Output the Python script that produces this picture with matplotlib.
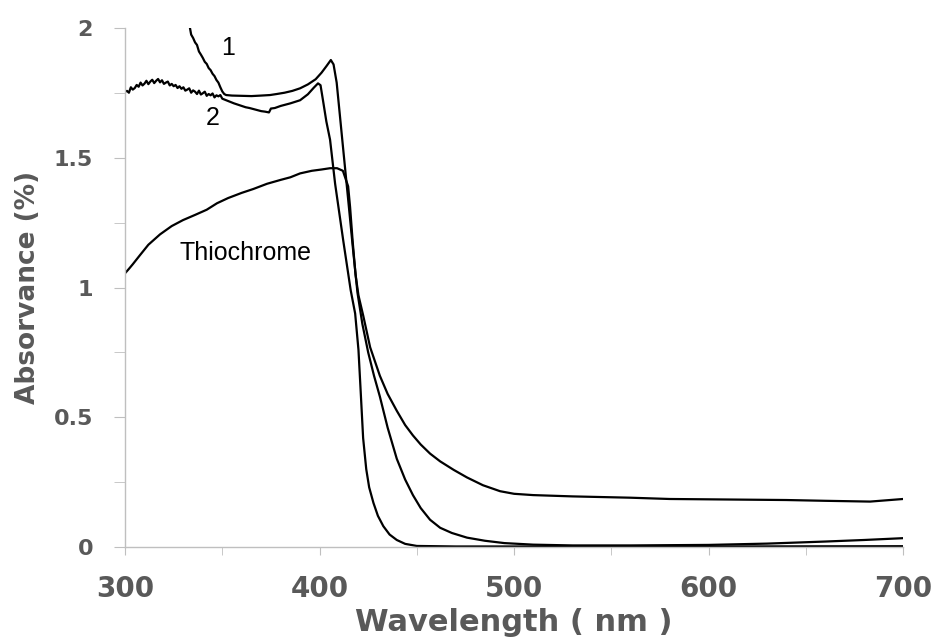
import matplotlib.pyplot as plt
from matplotlib.ticker import MultipleLocator

# curve 1
wl1 = [333.4, 334, 335, 336, 337, 338, 339, 340, 341, 342, 343, 344, 345, 346,
       347, 348, 349, 350, 351, 352, 355, 360, 365, 370, 374.5, 378, 382, 386,
       390, 394, 398, 401, 403.5, 405.8, 407.2, 408.8, 410.5, 412.2, 414.7,
       417.3, 419.5, 422, 425, 428, 431, 435, 439.7, 444, 448, 452, 456.8, 462,
       468, 475.8, 485, 495, 509.8, 530, 560, 600, 630, 660, 680, 700]
abs1 = [2.0, 1.975, 1.962, 1.945, 1.935, 1.91, 1.898, 1.885, 1.87, 1.862, 1.846,
        1.838, 1.824, 1.815, 1.8, 1.79, 1.772, 1.756, 1.746, 1.742, 1.74, 1.739,
        1.738, 1.74, 1.742, 1.746, 1.751, 1.758, 1.768, 1.783, 1.803, 1.828,
        1.853, 1.877, 1.86, 1.79, 1.66, 1.53, 1.34, 1.14, 0.98, 0.86, 0.75,
        0.66, 0.58, 0.46, 0.34, 0.26, 0.2, 0.15, 0.105, 0.074, 0.054, 0.036,
        0.024, 0.015, 0.009, 0.006, 0.006, 0.008, 0.013, 0.021, 0.027, 0.034]

# curve 2
wl2 = [300, 301, 302, 303, 304, 305, 306, 307, 308, 309, 310, 311, 312, 313,
       314, 315, 316, 317, 318, 319, 320, 321, 322, 323, 324, 325, 326, 327,
       328, 329, 330, 331, 332, 333, 334, 335, 336, 337, 338, 339, 340, 341,
       342, 343, 344, 345, 346, 347, 348, 349, 350, 352, 354, 356, 358, 360,
       362, 364, 366, 368, 370, 372, 374, 375, 377, 380, 385, 390, 394, 397,
       399.2, 400.5, 401.8, 403.5, 405.4, 408, 412.2, 416, 418.3, 420, 421,
       422.4, 424, 425.5, 427.7, 430, 432.8, 436, 439.7, 444, 450, 470, 520,
       600, 700]
abs2 = [1.755, 1.758, 1.751, 1.772, 1.763, 1.769, 1.781, 1.774, 1.79, 1.779,
        1.786, 1.797, 1.784, 1.794, 1.801, 1.788, 1.797, 1.804, 1.791, 1.799,
        1.785, 1.79, 1.794, 1.779, 1.785, 1.776, 1.781, 1.769, 1.776, 1.766,
        1.772, 1.759, 1.763, 1.768, 1.751, 1.76, 1.755, 1.746, 1.759, 1.744,
        1.749, 1.755, 1.739, 1.746, 1.741, 1.748, 1.733, 1.741, 1.737, 1.742,
        1.728, 1.722, 1.716, 1.71, 1.705, 1.7, 1.695, 1.692, 1.688, 1.684,
        1.68, 1.678, 1.675, 1.69, 1.692, 1.7, 1.71, 1.722, 1.745, 1.77, 1.787,
        1.78, 1.72, 1.64, 1.57, 1.4, 1.18, 0.99, 0.9, 0.76, 0.62, 0.42, 0.3,
        0.23, 0.17, 0.12, 0.08, 0.048, 0.027, 0.012, 0.004, 0.002, 0.002,
        0.002, 0.003]

# thiochrome
wlT = [300, 302, 304, 307.7, 312, 318, 324, 329.8, 336, 342, 347.3, 353, 360,
       366, 373, 380, 385, 390, 396, 401, 405.4, 409, 412, 414.7, 415.7, 417,
       418.5, 420, 422.5, 426, 431, 435, 439.7, 444, 448, 452, 456.8, 462, 469,
       475.8, 484, 492.8, 500, 509.8, 530, 559.6, 580, 610, 640, 660, 683, 700]
absT = [1.055, 1.072, 1.09, 1.125, 1.165, 1.205, 1.237, 1.26, 1.28, 1.3, 1.325,
        1.345, 1.365, 1.38, 1.4, 1.415, 1.425, 1.44, 1.45, 1.455, 1.46, 1.46,
        1.45, 1.39, 1.31, 1.18, 1.05, 0.97, 0.89, 0.77, 0.66, 0.59, 0.525,
        0.47, 0.43, 0.395, 0.36, 0.33, 0.297, 0.268, 0.238, 0.215, 0.205, 0.2,
        0.195, 0.19, 0.185, 0.183, 0.181, 0.178, 0.175, 0.185]

labels = ["1", "2", "Thiochrome"]
label_pos = [(353, 1.923), (345.2, 1.653), (361.7, 1.133)]

grey = "#595959"
axis_grey = "#bfbfbf"

fig = plt.figure(figsize=(9.33, 6.39), dpi=100)
ax = fig.add_axes([0.134, 0.144, 0.834, 0.812])

for x, y in [(wl1, abs1), (wl2, abs2), (wlT, absT)]:
    ax.plot(x, y, color="black", lw=1.6)

for txt, (x, y) in zip(labels, label_pos):
    ax.text(x, y, txt, fontsize=18, family="Liberation Sans",
            ha="center", va="center", color="black")

ax.set_xlim(300, 700)
ax.set_ylim(0, 2)
ax.xaxis.set_major_locator(MultipleLocator(100))
ax.xaxis.set_minor_locator(MultipleLocator(50))
ax.yaxis.set_major_locator(MultipleLocator(0.5))
ax.yaxis.set_minor_locator(MultipleLocator(0.25))
ax.set_yticks([0, 0.5, 1, 1.5, 2])
ax.set_yticklabels(["0", "0.5", "1", "1.5", "2"])

for s in ["top", "right"]:
    ax.spines[s].set_visible(False)
for s in ["left", "bottom"]:
    ax.spines[s].set_color(axis_grey)
    ax.spines[s].set_linewidth(1.0)

ax.tick_params(axis="y", which="both", direction="out", length=8,
               color=axis_grey, pad=15)
ax.tick_params(axis="x", which="both", direction="out", length=6,
               color=axis_grey, pad=14)
for lab in ax.get_yticklabels():
    lab.set_fontsize(16)
    lab.set_fontweight("bold")
    lab.set_color(grey)
for lab in ax.get_xticklabels():
    lab.set_fontsize(20)
    lab.set_fontweight("bold")
    lab.set_color(grey)

ax.set_xlabel("Wavelength ( nm )", fontsize=22, fontweight="bold",
              color=grey, labelpad=4)
ax.set_ylabel("Absorvance (%)", fontsize=19, fontweight="bold",
              color=grey, labelpad=9)

fig.savefig("out.png", dpi=100)
